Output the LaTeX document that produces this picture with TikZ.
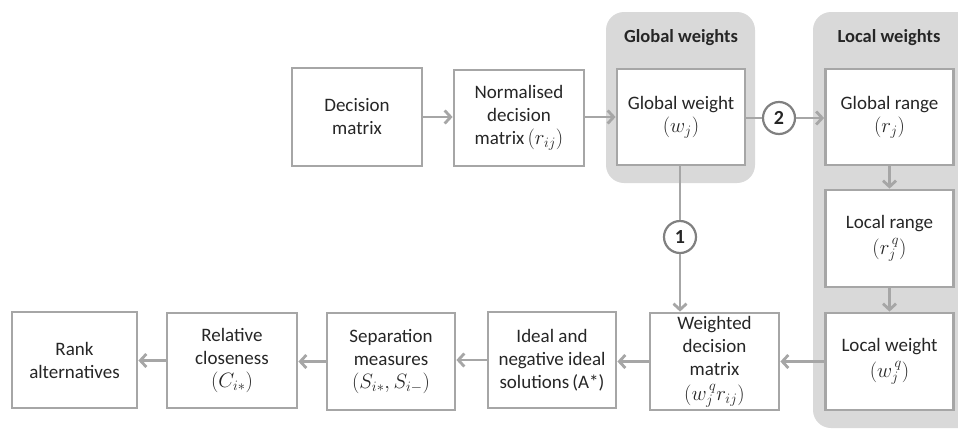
\documentclass[tikz,border=0pt]{standalone}
\usepackage{fontspec}
\setmainfont{Carlito}
\usetikzlibrary{arrows.meta}
\definecolor{boxline}{HTML}{A6A6A6}
\definecolor{bgfill}{HTML}{D9D9D9}
\definecolor{circline}{HTML}{808080}
\definecolor{txt}{HTML}{262626}
\newcommand{\mth}[1]{{\fontsize{21}{23}\selectfont$#1$}}
\tikzset{
  stepbox/.style={draw=boxline, line width=2.8pt, fill=white, minimum width=128pt, minimum height=96pt, align=center, inner sep=2pt, text=txt, font=\fontsize{19}{23}\selectfont},
  numcirc/.style={circle, draw=circline, line width=2.2pt, fill=white, minimum size=32pt, inner sep=0pt, text=txt, font=\fontsize{20}{22}\selectfont\bfseries},
  conn/.style={draw=boxline, line width=2.8pt},
  arr/.style={conn, -{Straight Barb[length=6pt,width=13pt,line width=2.8pt]}},
  bgpanel/.style={fill=bgfill, rounded corners=18pt},
  paneltitle/.style={text=txt, font=\fontsize{18.5}{20}\selectfont\bfseries}
}
\begin{document}
\begin{tikzpicture}[x=1pt,y=-1pt]
\useasboundingbox (0,0) rectangle (958,429);
% background panels
\fill[bgpanel] (606,12) rectangle (755,183);
\fill[bgpanel] (813,12) rectangle (980,428);
\node[paneltitle] (tg) at (681,38) {Global weights};
\node[paneltitle] (tl) at (889,38) {Local weights};
% top row
\node[stepbox, minimum width=130pt, minimum height=98pt] (dm) at (357,117) {Decision\\matrix};
\node[stepbox, minimum width=130pt] (nd) at (519,118) {Normalised\\decision\\matrix\,\mth{(r_{ij})}};
\node[stepbox] (gw) at (681,117) {Global weight\\\mth{(w_j)}};
\node[stepbox] (gr) at (889.5,117) {Global range\\\mth{(r_j)}};
% right column
\node[stepbox, minimum height=97pt] (lr) at (889.5,238.5) {Local range\\[3pt]\mth{(r_j^{\,q})}};
\node[stepbox, minimum height=97pt] (lw) at (889.5,361.5) {Local weight\\[3pt]\mth{(w_j^{\,q})}};
% bottom row
\node[stepbox, minimum width=129pt, minimum height=97pt] (wd) at (714.5,361.5) {Weighted\\decision\\matrix\\[2pt]\mth{(w_j^{\,q} r_{ij})}};
\node[stepbox] (id) at (552,360) {Ideal and\\negative ideal\\solutions\,(A*)};
\node[stepbox, minimum height=97pt] (sm) at (391,361.5) {Separation\\measures\\\mth{(S_{i*}, S_{i-})}};
\node[stepbox, minimum width=130pt, minimum height=95pt] (rc) at (232,360.5) {Relative\\closeness\\\mth{(C_{i*})}};
\node[stepbox, minimum width=125pt] (ra) at (74.5,360) {Rank\\alternatives};
% circles
\node[numcirc] (c1) at (680,237) {1};
\node[numcirc] (c2) at (779,118) {2};
% connectors
\draw[arr] (dm.east) -- (nd.west |- dm.east);
\draw[arr] (nd.east |- gw.east) -- (gw.west);
\draw[conn] (gw.east |- c2) -- (c2.west);
\draw[arr] (c2.east) -- (gr.west |- c2);
\draw[conn] (gw.south -| c1) -- (c1.north);
\draw[arr] (c1.south) -- (c1 |- wd.north);
\draw[arr] (gr.south) -- (lr.north);
\draw[arr] (lr.south) -- (lw.north);
\draw[arr] (lw.west) -- (wd.east);
\draw[arr] (wd.west) -- (id.east |- wd.west);
\draw[arr] (id.west) -- (sm.east |- id.west);
\draw[arr] (sm.west) -- (rc.east |- sm.west);
\draw[arr] (rc.west) -- (ra.east |- rc.west);
\end{tikzpicture}
\end{document}
